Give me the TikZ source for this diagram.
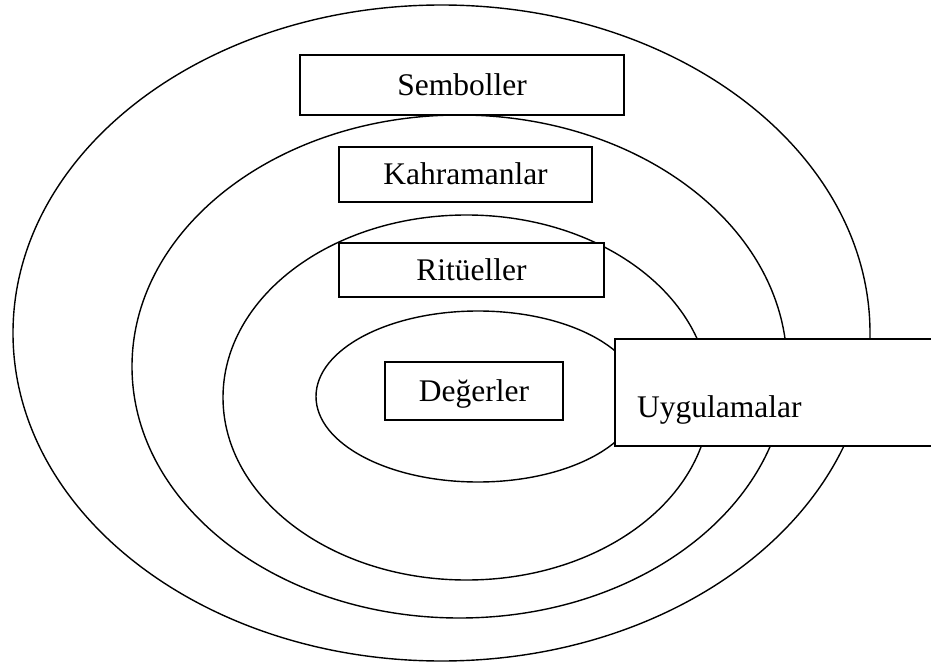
\documentclass[tikz,border=0pt]{standalone}
\usepackage{fontspec}
\setmainfont{Liberation Serif}
\begin{document}
\begin{tikzpicture}[x=1pt,y=-1pt,
  ring/.style={draw=black,line width=1.4pt},
  labelbox/.style={draw=black,fill=white,line width=1.4pt,rectangle,inner sep=0pt,
    font=\fontsize{31.5}{38}\selectfont,text height=21pt,text depth=0pt},
  plaintext/.style={inner sep=0pt,font=\fontsize{31.5}{38}\selectfont}]
\useasboundingbox (0,0) rectangle (931,668);
% nested ellipses
\draw[ring] (441.5,333) ellipse [x radius=428.5pt, y radius=328pt];
\draw[ring] (459.5,366.5) ellipse [x radius=327.5pt, y radius=251.5pt];
\draw[ring] (466.5,397.5) ellipse [x radius=243.5pt, y radius=182.5pt];
\draw[ring] (478,396.5) ellipse [x radius=162pt, y radius=85.5pt];
% labels
\node[labelbox,minimum width=324pt,minimum height=60pt] (semb) at (462,85) {Semboller};
\node[labelbox,minimum width=253pt,minimum height=55pt] (kahr) at (465.5,174.5) {Kahramanlar};
\node[labelbox,minimum width=265pt,minimum height=54pt] (ritu) at (471.5,270) {Ritüeller};
\node[labelbox,minimum width=178pt,minimum height=58pt] (deger) at (474,391) {Değerler};
\node[labelbox,minimum width=320pt,minimum height=107pt] (uyg) at (775,392.5) {};
\node[plaintext,anchor=base west] (uygt) at (637,417) {Uygulamalar};
\end{tikzpicture}
\end{document}
